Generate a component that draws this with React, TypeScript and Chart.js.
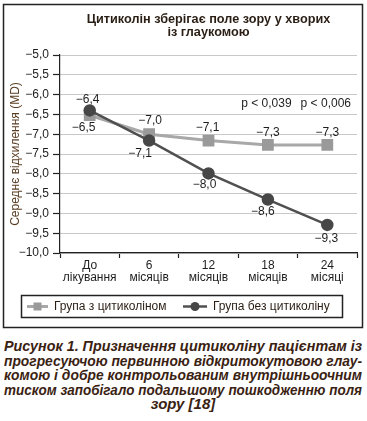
import React, { useEffect, useLayoutEffect, useRef } from "react";
import { Chart, registerables } from "chart.js";

Chart.register(...registerables);

const categories: string[][] = [
  ["До", "лікування"],
  ["6", "місяців"],
  ["12", "місяців"],
  ["18", "місяців"],
  ["24", "місяці"],
];
const withCiticoline = [-6.52, -7.0, -7.16, -7.27, -7.27];
const withoutCiticoline = [-6.4, -7.16, -7.99, -8.65, -9.29];
const withLabels = ["−6,5", "−7,0", "−7,1", "−7,3", "−7,3"];
const withoutLabels = ["−6,4", "−7,1", "−8,0", "−8,6", "−9,3"];
const pLabels = ["", "", "", "р < 0,039", "р < 0,006"];
const pLevel = -6.23;
const seriesNames = ["Група з цитиколіном", "Група без цитиколіну"];
const titleLines = ["Цитиколін зберігає поле зору у хворих", "із глаукомою"];
const yTitle = "Середнє відхилення (MD)";
const yMin = -10;
const yMax = -5;
const yStep = 0.5;
const captionLines = [
  "Рисунок 1. Призначення цитиколіну пацієнтам із",
  "прогресуючою первинною відкритокутовою глау-",
  "комою і добре контрольованим внутрішньоочним",
  "тиском запобігало подальшому пошкодженню поля",
  "зору [18]",
];

const FONT = "'Liberation Sans', Arial, sans-serif";
const TEXT = "#2a1e14";
const GRAY_LINE = "#a8a8a8";
const GRAY_PT = "#9a9a9a";
const DARK_LINE = "#505050";
const DARK_PT = "#474747";
const CAPTION_W = 358;

// label offsets (px) relative to each point
const withDx = [-6, 1, -1, 0, 0];
const withDy = [12, -14, -13, -12, -12];
const withoutDx = [-2, -9, -4, -5, -1];
const withoutDy = [-11, 13, 11, 12, 14];

const fmt = (v: number) =>
  (v < 0 ? "−" : "") + Math.abs(v).toFixed(1).replace(".", ",");

const overlayPlugin = {
  id: "overlay",
  afterDatasetsDraw(chart: any) {
    const ctx = chart.ctx;
    const xs = chart.scales.x;
    const ys = chart.scales.y;
    ctx.save();
    ctx.font = `12px ${FONT}`;
    ctx.fillStyle = "#1e1e1e";
    ctx.textAlign = "center";
    ctx.textBaseline = "middle";
    withCiticoline.forEach((v, i) => {
      ctx.fillText(
        withLabels[i],
        xs.getPixelForValue(i) + withDx[i],
        ys.getPixelForValue(v) + withDy[i]
      );
    });
    withoutCiticoline.forEach((v, i) => {
      ctx.fillText(
        withoutLabels[i],
        xs.getPixelForValue(i) + withoutDx[i],
        ys.getPixelForValue(v) + withoutDy[i]
      );
    });
    pLabels.forEach((t, i) => {
      if (!t) return;
      ctx.fillText(t, xs.getPixelForValue(i) - 1.5, ys.getPixelForValue(pLevel));
    });
    ctx.restore();
  },
  afterDraw(chart: any) {
    const ctx = chart.ctx;
    ctx.save();
    // outer frame
    ctx.strokeStyle = "#222";
    ctx.lineWidth = 1.5;
    ctx.strokeRect(3.5, 4.5, 359, 323);
    // legend box
    ctx.strokeRect(21.5, 295.5, 321, 22);
    const ly = 306.5;
    // item 1
    ctx.strokeStyle = GRAY_LINE;
    ctx.lineWidth = 3;
    ctx.beginPath();
    ctx.moveTo(27, ly);
    ctx.lineTo(48, ly);
    ctx.stroke();
    ctx.fillStyle = GRAY_PT;
    ctx.fillRect(33.5, ly - 4, 8, 8);
    // item 2
    ctx.strokeStyle = DARK_LINE;
    ctx.lineWidth = 2.5;
    ctx.beginPath();
    ctx.moveTo(183, ly);
    ctx.lineTo(207, ly);
    ctx.stroke();
    ctx.fillStyle = DARK_PT;
    ctx.beginPath();
    ctx.arc(195, ly, 4.5, 0, Math.PI * 2);
    ctx.fill();
    ctx.fillStyle = TEXT;
    ctx.font = `12px ${FONT}`;
    ctx.textAlign = "left";
    ctx.textBaseline = "middle";
    ctx.fillText(seriesNames[0], 54, ly);
    ctx.fillText(seriesNames[1], 213, ly);
    ctx.restore();
  },
};

export default function App() {
  const ref = useRef<HTMLCanvasElement | null>(null);
  const lineRefs = useRef<(HTMLDivElement | null)[]>([]);

  useLayoutEffect(() => {
    lineRefs.current.forEach((el) => {
      if (!el) return;
      const natural = el.scrollWidth;
      if (natural > CAPTION_W) {
        el.style.width = natural + "px";
        el.style.transformOrigin = "0 0";
        el.style.transform = `scaleX(${CAPTION_W / natural})`;
      }
    });
  }, []);

  useEffect(() => {
    if (!ref.current) return;
    const chart = new Chart(ref.current, {
      type: "line",
      data: {
        labels: categories,
        datasets: [
          {
            label: seriesNames[0],
            data: withCiticoline,
            borderColor: GRAY_LINE,
            backgroundColor: GRAY_PT,
            pointBackgroundColor: GRAY_PT,
            pointBorderColor: GRAY_PT,
            pointStyle: "rect",
            pointRadius: 6.2,
            borderWidth: 3,
            order: 1,
          },
          {
            label: seriesNames[1],
            data: withoutCiticoline,
            borderColor: DARK_LINE,
            backgroundColor: DARK_PT,
            pointBackgroundColor: DARK_PT,
            pointBorderColor: DARK_PT,
            pointStyle: "circle",
            pointRadius: 5,
            borderWidth: 2.5,
            order: 0,
          },
        ],
      },
      options: {
        animation: false,
        responsive: false,
        maintainAspectRatio: false,
        layout: { padding: { left: 0, right: 10, top: 13, bottom: 39 } },
        plugins: {
          legend: { display: false },
          tooltip: { enabled: false },
          title: {
            display: true,
            fullSize: false,
            text: titleLines,
            color: TEXT,
            font: { family: FONT, size: 12.7, weight: "bold", lineHeight: 1.04 },
            padding: { top: 0, bottom: 15.6 },
          },
        },
        scales: {
          x: {
            type: "category",
            offset: true,
            grid: {
              offset: true,
              drawOnChartArea: false,
              tickLength: 5,
              tickColor: "#222",
              tickWidth: 1.2,
            },
            border: { color: "#222", width: 1.2 },
            ticks: {
              color: "#1e1e1e",
              padding: 2,
              maxRotation: 0,
              autoSkip: false,
              font: { family: FONT, size: 12, lineHeight: 1.0 },
            },
            afterFit: (s: any) => {
              s.height = 40;
            },
          },
          y: {
            min: yMin,
            max: yMax,
            grid: {
              color: "#c8c8c8",
              lineWidth: 1,
              tickLength: 7,
              tickColor: "#222",
              tickWidth: 1.2,
            },
            border: { color: "#222", width: 1.2 },
            ticks: {
              stepSize: yStep,
              color: "#1e1e1e",
              padding: 4,
              font: { family: FONT, size: 12 },
              callback: (v: any) => fmt(Number(v)),
            },
            title: {
              display: true,
              text: yTitle,
              color: "#5a3d22",
              font: { family: FONT, size: 12 },
              padding: { top: 8, bottom: 0 },
            },
            afterFit: (s: any) => {
              s.width = 60;
            },
          },
        },
      },
      plugins: [overlayPlugin],
    });
    return () => chart.destroy();
  }, []);

  return (
    <div style={{ position: "absolute", left: 0, top: 0, width: 367, height: 421, background: "#fff" }}>
      <canvas ref={ref} width={367} height={332} style={{ position: "absolute", left: 0, top: 0, width: 367, height: 332 }} />
      <div
        style={{
          position: "absolute",
          left: 4,
          top: 339,
          width: CAPTION_W,
          fontFamily: FONT,
          fontWeight: "bold",
          fontStyle: "italic",
          fontSize: 15,
          lineHeight: "14.5px",
          color: "#3a2212",
        }}
      >
        {captionLines.map((l, i) => (
          <div
            key={i}
            ref={(el) => {
              lineRefs.current[i] = el;
            }}
            style={{
              whiteSpace: "nowrap",
              textAlign: i === captionLines.length - 1 ? "center" : "justify",
              textAlignLast: i === captionLines.length - 1 ? "center" : "justify",
            }}
          >
            {l}
          </div>
        ))}
      </div>
    </div>
  );
}
